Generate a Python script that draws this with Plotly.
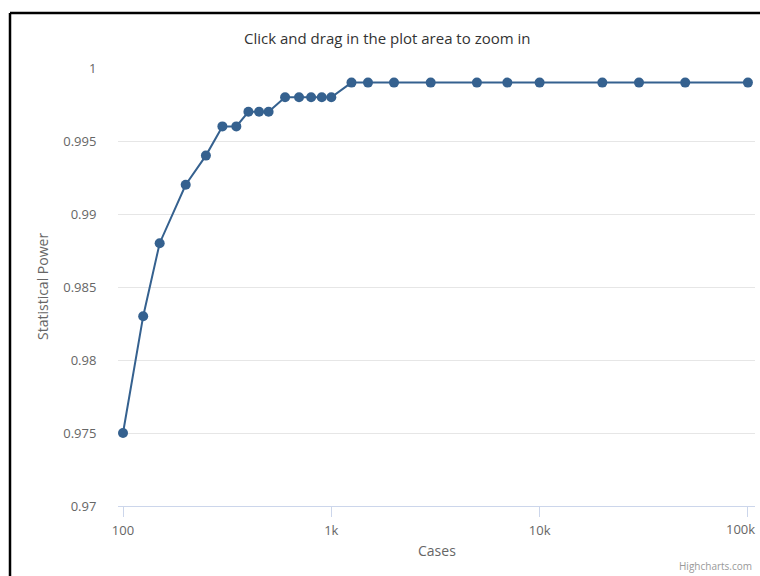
import plotly.graph_objects as go

cases = [100, 125, 150, 200, 250, 300, 350, 400, 450, 500, 600, 700, 800, 900, 1000,
         1250, 1500, 2000, 3000, 5000, 7000, 10000, 20000, 30000, 50000, 100000]
power = [0.975, 0.983, 0.988, 0.992, 0.994, 0.996, 0.996, 0.997, 0.997, 0.997,
         0.998, 0.998, 0.998, 0.998, 0.998,
         0.999, 0.999, 0.999, 0.999, 0.999, 0.999, 0.999, 0.999, 0.999, 0.999, 0.999]

x_tickvals = [100, 1000, 10000, 100000]
x_ticktext = ["100", "1k", "10k", "100k"]
y_tickvals = [0.97, 0.975, 0.98, 0.985, 0.99, 0.995, 1.0]
y_ticktext = ["0.97", "0.975", "0.98", "0.985", "0.99", "0.995", "1"]

FONT = "Open Sans, Liberation Sans, sans-serif"
COLOR = "#35618f"

# last label is drawn separately, right-aligned to stay inside the page (as Highcharts does)
x_ticktext_shown = x_ticktext[:-1] + [""]

fig = go.Figure()
fig.add_trace(go.Scatter(
    x=cases, y=power, mode="lines+markers",
    line=dict(color=COLOR, width=2),
    marker=dict(color=COLOR, size=10),
    showlegend=False,
))

W, H = 760, 576
L, R, T, B = 118, 5, 68, 70
pw, ph = W - L - R, H - T - B

def px(x):
    return (x - L) / pw

def py(y):
    return (H - B - y) / ph

fig.update_layout(
    width=W, height=H,
    margin=dict(l=L, r=R, t=T, b=B),
    paper_bgcolor="white", plot_bgcolor="white",
    font=dict(family=FONT, color="#666666", size=13),
    xaxis=dict(
        type="log", range=[1.976, 5.034], automargin=False,
        tickvals=x_tickvals, ticktext=x_ticktext_shown,
        showgrid=False, zeroline=False,
        showline=True, linecolor="#ccd6eb", linewidth=1,
        ticks="outside", ticklen=10, tickcolor="#ccd6eb",
        ticklabelstandoff=2,
        tickfont=dict(size=13, color="#666666"),
    ),
    yaxis=dict(
        range=[0.97, 1.0], automargin=False,
        tickvals=y_tickvals, ticktext=y_ticktext,
        showgrid=True, gridcolor="#e6e6e6", gridwidth=1,
        zeroline=False, showline=False,
        ticks="outside", ticklen=18, tickcolor="rgba(0,0,0,0)",
        tickfont=dict(size=13, color="#666666"),
    ),
    annotations=[
        dict(text="Click and drag in the plot area to zoom in", xref="paper", yref="paper",
             x=px(387), y=py(38), xanchor="center", yanchor="middle", showarrow=False,
             font=dict(size=15, color="#333333", family=FONT)),
        dict(text="Cases", xref="paper", yref="paper",
             x=px(437), y=py(550), xanchor="center", yanchor="middle", showarrow=False,
             font=dict(size=14, color="#666666", family=FONT)),
        dict(text="Statistical Power", xref="paper", yref="paper", textangle=-90,
             x=px(42), y=py(287), xanchor="center", yanchor="middle", showarrow=False,
             font=dict(size=14, color="#666666", family=FONT)),
        dict(text=x_ticktext[-1], xref="paper", yref="paper",
             x=px(757), y=py(529), xanchor="right", yanchor="middle", showarrow=False,
             font=dict(size=13, color="#666666", family=FONT)),
        dict(text="Highcharts.com", xref="paper", yref="paper",
             x=px(754), y=py(566), xanchor="right", yanchor="middle", showarrow=False,
             font=dict(size=10, color="#999999", family=FONT)),
    ],
    shapes=[
        dict(type="line", xref="paper", yref="paper",
             x0=px(10), x1=px(770), y0=py(13), y1=py(13),
             line=dict(color="black", width=2.5)),
        dict(type="line", xref="paper", yref="paper",
             x0=px(10), x1=px(10), y0=py(13), y1=py(590),
             line=dict(color="black", width=2.5)),
    ],
)

fig.write_html(
    "out.html",
    config={"displayModeBar": False},
    post_script="document.body.style.margin='0';document.body.style.overflow='hidden';",
)
